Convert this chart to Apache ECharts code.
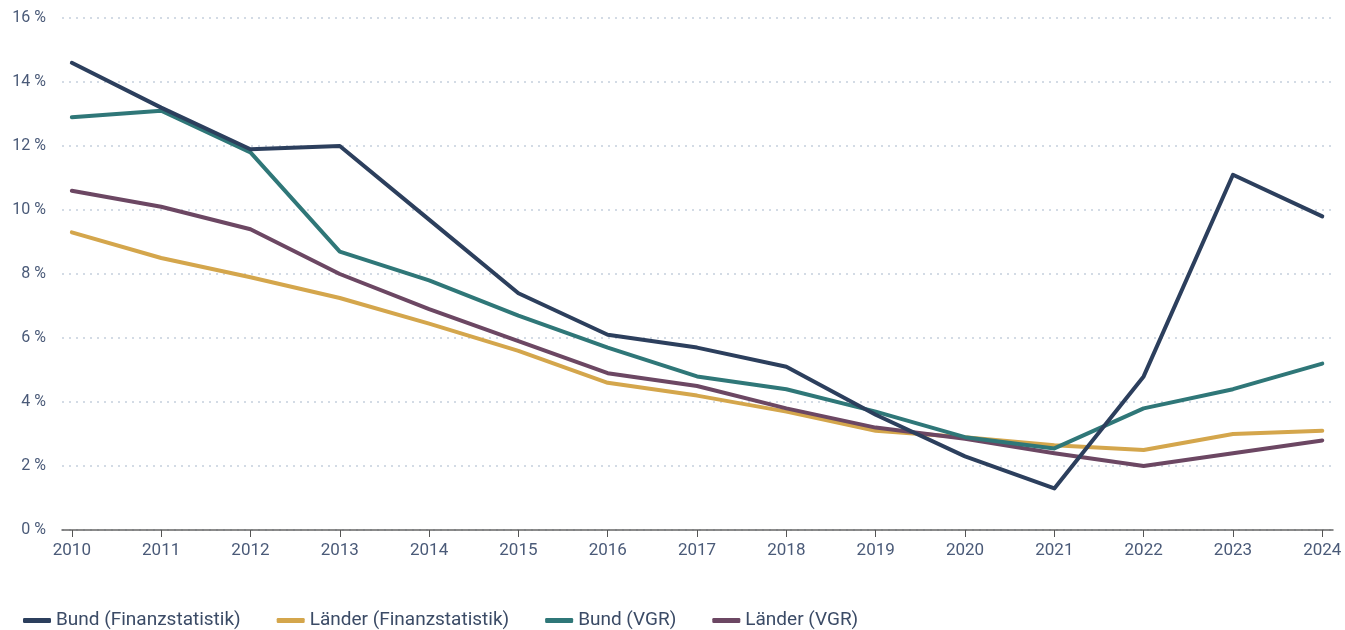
<!DOCTYPE html>
<html><head><meta charset="utf-8">
<script src="https://cdn.jsdelivr.net/npm/echarts@6/dist/echarts.min.js"></script>
<style>html,body{margin:0;padding:0;background:#fff}#c{width:1345px;height:630px}</style>
</head><body><div id="c"></div>
<script>
const years = [2010,2011,2012,2013,2014,2015,2016,2017,2018,2019,2020,2021,2022,2023,2024];
const bundFinanz = [14.6,13.2,11.9,12.0,9.7,7.4,6.1,5.7,5.1,3.6,2.3,1.3,4.8,11.1,9.8];
const laenderFinanz = [9.3,8.5,7.9,7.25,6.45,5.6,4.6,4.2,3.7,3.1,2.9,2.65,2.5,3.0,3.1];
const bundVGR = [12.9,13.1,11.8,8.7,7.8,6.7,5.7,4.8,4.4,3.7,2.9,2.55,3.8,4.4,5.2];
const laenderVGR = [10.6,10.1,9.4,8.0,6.9,5.9,4.9,4.5,3.8,3.2,2.85,2.4,2.0,2.4,2.8];
const yTicks = [0,2,4,6,8,10,12,14,16];
const seriesNames = ['Bund (Finanzstatistik)','Länder (Finanzstatistik)','Bund (VGR)','Länder (VGR)'];
const colors = ['#2c3f5d','#d4a64c','#2f7778','#6c4763'];

const font = 'Roboto, sans-serif';
const pair = arr => years.map((y,i)=>[y,arr[i]]);
const chart = echarts.init(document.getElementById('c'));
const mk = (name, data, color, z) => ({
  name, type:'line', data: pair(data), symbol:'none', z,
  lineStyle:{width:4, color, cap:'round', join:'round'}, itemStyle:{color}
});
chart.setOption({
  animation:false,
  textStyle:{fontFamily:font},
  grid:{left:62, right:12, top:18, bottom:100, containLabel:false},
  legend:{
    left:18, top:606, itemWidth:28, itemHeight:5, itemGap:36,
    icon:'roundRect',
    textStyle:{color:'#3b4b66', fontSize:19, fontFamily:font},
    data: seriesNames
  },
  xAxis:{
    type:'value', min:2009.89, max:2024.12,
    splitLine:{show:false},
    axisLine:{lineStyle:{color:'#666', width:1.5}},
    axisTick:{show:true, length:7, lineStyle:{color:'#555'}, customValues: years},
    axisLabel:{color:'#4a5a78', fontSize:17, fontFamily:font, margin:12, customValues: years,
      formatter: v => String(v)}
  },
  yAxis:{
    type:'value', min:0, max:16, interval:2,
    axisLine:{show:false}, axisTick:{show:false},
    axisLabel:{color:'#4a5a78', fontSize:16, fontFamily:font, margin:16,
      formatter: v => yTicks.includes(v) ? v + ' %' : ''},
    splitLine:{show:true, lineStyle:{color:'#c5d0dd', type:[2,5], width:1.5}}
  },
  series:[
    mk(seriesNames[1], laenderFinanz, colors[1], 2),
    mk(seriesNames[3], laenderVGR, colors[3], 3),
    mk(seriesNames[2], bundVGR, colors[2], 4),
    mk(seriesNames[0], bundFinanz, colors[0], 5)
  ]
});
</script></body></html>
